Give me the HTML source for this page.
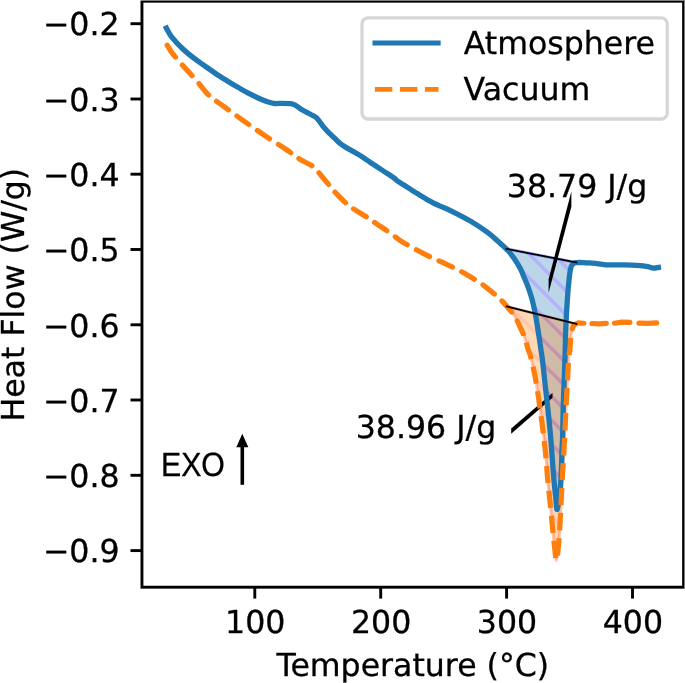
<!DOCTYPE html><html><head><meta charset="utf-8"><title>DSC</title><style>html,body{margin:0;padding:0;background:#fff}svg{display:block}text{font-family:"DejaVu Sans","Liberation Sans",sans-serif;font-size:31.6px;fill:#000;text-rendering:geometricPrecision;stroke:#000;stroke-width:0.3px}</style></head><body>
<svg width="685" height="683" viewBox="0 0 685 683">
<defs>
<pattern id="hb" patternUnits="userSpaceOnUse" x="0" y="12.9" width="24" height="24"><rect width="24" height="24" fill="#1f77b4"/><path d="M-24 -24 L48 48 M-24 0 L24 48 M0 -24 L48 24" stroke="#0000ff" stroke-width="3.7" fill="none"/></pattern>
<pattern id="ho" patternUnits="userSpaceOnUse" x="0" y="12.9" width="24" height="24"><rect width="24" height="24" fill="#ff7f0e"/><path d="M-24 -24 L48 48 M-24 0 L24 48 M0 -24 L48 24" stroke="#ff4500" stroke-width="3.7" fill="none"/></pattern>
</defs>
<rect width="685" height="683" fill="#fff"/>
<path d="M506.5 248.8C506.7 249.0 506.3 248.6 507.6 250.2C508.9 251.8 512.0 255.3 514.2 258.5C516.4 261.7 519.3 266.6 520.8 269.5C522.3 272.4 522.3 273.1 523.4 275.7C524.5 278.3 526.0 281.4 527.4 285.2C528.8 289.0 530.5 293.8 531.8 298.4C533.1 303.0 534.0 307.2 535.1 312.8C536.2 318.4 537.3 325.7 538.3 331.9C539.3 338.1 540.3 345.0 541.0 350.0C541.7 355.0 542.0 356.0 542.7 362.0C543.4 368.0 544.4 377.9 545.3 386.0C546.2 394.1 547.1 401.9 548.0 410.3C548.9 418.7 549.9 428.3 550.6 436.6C551.3 444.9 551.9 453.4 552.4 460.0C552.9 466.6 553.0 469.9 553.6 476.4C554.2 482.9 555.3 493.7 555.9 499.2C556.5 504.7 556.5 510.4 557.1 509.5C557.7 508.6 559.0 499.4 559.7 493.9C560.4 488.4 560.7 483.7 561.1 476.4C561.5 469.1 561.8 456.6 562.0 450.0C562.2 443.4 562.4 444.7 562.6 436.6C562.8 428.5 563.0 413.2 563.4 401.5C563.8 389.8 564.4 375.0 564.7 366.4C565.0 357.8 565.0 356.6 565.2 350.0C565.4 343.4 565.5 334.9 565.9 326.6C566.2 318.3 566.8 308.2 567.3 300.3C567.8 292.4 568.5 284.6 569.1 279.2C569.7 273.8 570.2 270.2 570.8 267.8C571.3 265.4 571.8 265.3 572.4 264.5C573.0 263.7 573.6 263.3 574.3 263.0C575.0 262.7 576.0 262.6 576.4 262.5 Z" fill="url(#hb)" fill-opacity="0.3" stroke="#0000ff" stroke-opacity="0.3" stroke-width="3" stroke-linejoin="round"/>
<path d="M506.7 306.4C506.9 306.5 506.3 305.7 507.6 307.3C508.9 308.9 512.4 312.6 514.6 316.1C516.8 319.6 519.0 324.6 520.7 328.4C522.5 332.2 523.8 335.3 525.1 338.9C526.4 342.5 527.4 347.2 528.3 350.0C529.2 352.8 529.3 351.6 530.4 355.8C531.5 360.0 533.5 368.4 534.8 375.1C536.1 381.8 537.2 388.9 538.3 396.2C539.4 403.5 540.5 411.8 541.5 419.1C542.5 426.4 543.3 433.3 544.1 440.1C544.9 446.9 545.7 453.9 546.2 460.0C546.8 466.1 546.8 469.3 547.4 476.4C548.0 483.5 549.2 493.9 550.1 502.7C551.0 511.5 551.9 521.2 552.7 529.1C553.5 537.0 554.3 544.9 554.9 550.1C555.5 555.3 555.8 560.6 556.4 560.3C557.0 560.0 557.7 553.6 558.2 548.4C558.8 543.2 559.2 536.7 559.7 529.1C560.2 521.5 560.7 511.5 561.1 502.7C561.5 493.9 562.0 483.5 562.4 476.4C562.8 469.3 563.0 466.6 563.4 460.0C563.8 453.4 564.3 444.9 564.7 436.6C565.1 428.3 565.5 419.1 565.9 410.3C566.3 401.5 566.8 392.7 567.3 383.9C567.8 375.1 568.3 363.2 568.7 357.6C569.1 352.0 569.6 352.9 569.9 350.0C570.2 347.1 570.3 342.7 570.5 340.0C570.7 337.3 570.7 336.1 571.2 333.7C571.7 331.3 572.6 327.3 573.5 325.7C574.4 324.1 575.9 324.3 576.4 324.0 Z" fill="url(#ho)" fill-opacity="0.3" stroke="#ff4500" stroke-opacity="0.3" stroke-width="3" stroke-linejoin="round"/>
<path d="M571.4 191.2L548.6 279.2V292.8L571.4 206.6Z" fill="#000"/>
<path d="M511.2 428.6L552.5 393.1V397.7L511.2 433.8Z" fill="#000"/>
<path d="M166.4 28.1C167.3 29.7 169.2 33.9 172.0 37.4C174.8 40.9 179.2 45.5 182.9 49.0C186.6 52.5 190.2 55.4 193.9 58.2C197.6 61.0 201.2 63.4 204.9 66.0C208.6 68.6 212.2 71.2 215.9 73.7C219.6 76.2 223.2 78.4 226.9 80.7C230.6 83.0 234.2 85.2 237.9 87.3C241.6 89.4 245.2 91.5 248.8 93.4C252.5 95.3 256.6 97.3 259.8 98.7C263.0 100.1 265.6 101.1 268.0 101.9C270.4 102.7 272.1 103.3 274.5 103.5C276.9 103.7 280.0 103.3 282.7 103.3C285.4 103.3 288.8 103.3 290.9 103.6C293.0 103.9 293.8 104.3 295.6 105.3C297.5 106.3 299.8 108.4 302.0 109.7C304.2 111.0 306.8 112.3 308.6 113.3C310.4 114.3 311.5 114.8 312.9 115.6C314.2 116.4 315.4 116.8 316.7 118.0C318.0 119.2 319.4 121.4 320.6 122.9C321.8 124.5 322.4 125.6 323.9 127.3C325.4 129.0 327.6 131.5 329.4 133.3C331.2 135.2 333.2 136.8 334.9 138.4C336.5 140.0 337.8 141.4 339.3 142.7C340.8 144.0 341.9 144.8 343.7 146.0C345.5 147.2 347.8 148.5 350.3 149.9C352.8 151.3 355.2 152.6 358.5 154.6C361.8 156.6 366.1 159.6 370.0 162.2C373.9 164.8 377.8 167.3 381.7 169.9C385.6 172.5 390.7 175.6 393.4 177.5C396.1 179.4 396.2 180.0 398.1 181.4C400.1 182.8 402.0 183.7 405.1 185.7C408.2 187.7 412.9 190.9 416.8 193.3C420.7 195.7 424.6 198.2 428.5 200.3C432.4 202.5 436.7 204.5 440.3 206.2C443.9 207.9 445.0 207.8 450.0 210.3C455.0 212.8 464.0 217.3 470.3 221.0C476.6 224.7 483.1 229.1 487.9 232.6C492.6 236.1 495.5 239.1 498.8 242.0C502.1 244.9 505.0 247.4 507.6 250.2C510.2 252.9 512.0 255.3 514.2 258.5C516.4 261.7 519.3 266.6 520.8 269.5C522.3 272.4 522.3 273.1 523.4 275.7C524.5 278.3 526.0 281.4 527.4 285.2C528.8 289.0 530.5 293.8 531.8 298.4C533.1 303.0 534.0 307.2 535.1 312.8C536.2 318.4 537.3 325.7 538.3 331.9C539.3 338.1 540.3 345.0 541.0 350.0C541.7 355.0 542.0 356.0 542.7 362.0C543.4 368.0 544.4 377.9 545.3 386.0C546.2 394.1 547.1 401.9 548.0 410.3C548.9 418.7 549.9 428.3 550.6 436.6C551.3 444.9 551.9 453.4 552.4 460.0C552.9 466.6 553.0 469.9 553.6 476.4C554.2 482.9 555.3 493.7 555.9 499.2C556.5 504.7 556.5 510.4 557.1 509.5C557.7 508.6 559.0 499.4 559.7 493.9C560.4 488.4 560.7 483.7 561.1 476.4C561.5 469.1 561.8 456.6 562.0 450.0C562.2 443.4 562.4 444.7 562.6 436.6C562.8 428.5 563.0 413.2 563.4 401.5C563.8 389.8 564.4 375.0 564.7 366.4C565.0 357.8 565.0 356.6 565.2 350.0C565.4 343.4 565.5 334.9 565.9 326.6C566.2 318.3 566.8 308.2 567.3 300.3C567.8 292.4 568.5 284.6 569.1 279.2C569.7 273.8 570.2 270.2 570.8 267.8C571.3 265.4 571.8 265.3 572.4 264.5C573.0 263.7 573.6 263.3 574.3 263.0C575.0 262.7 575.7 262.7 576.6 262.6C577.5 262.5 578.4 262.5 579.5 262.5C580.6 262.5 581.8 262.5 583.1 262.6C584.4 262.7 585.5 262.8 587.5 262.9C589.5 263.0 592.4 263.1 595.4 263.4C598.4 263.7 601.0 264.6 605.8 264.8C610.6 265.0 618.9 264.7 624.1 264.8C629.3 264.9 633.0 265.0 636.9 265.3C640.8 265.6 645.1 266.1 647.8 266.6C650.5 267.1 651.5 268.1 653.3 268.2C655.1 268.3 657.5 267.6 658.4 267.5" fill="none" stroke="#1f77b4" stroke-width="5.3" stroke-linejoin="round" stroke-linecap="square"/>
<path d="M506.5 248.8L576.4 262.5" stroke="#000" stroke-width="1.8" stroke-linecap="square"/>
<clipPath id="cu"><rect x="0" y="0" width="685" height="336"/></clipPath><clipPath id="cl"><rect x="0" y="336" width="685" height="347"/></clipPath>
<path clip-path="url(#cu)" d="M166.5 44.0C167.4 45.5 170.2 50.2 172.0 52.8C173.8 55.4 175.1 56.6 177.5 59.4C179.9 62.1 182.9 65.6 186.2 69.3C189.5 73.0 193.3 77.0 197.2 81.4C201.0 85.8 205.1 91.7 209.3 95.7C213.5 99.7 217.0 101.5 222.5 105.5C228.0 109.5 235.2 114.8 242.2 119.8C249.1 124.8 256.9 130.2 264.2 135.2C271.5 140.1 280.3 145.5 286.2 149.5C292.1 153.5 295.4 156.4 299.8 159.2C304.2 162.0 309.6 164.0 312.9 166.4C316.2 168.8 316.8 170.3 319.5 173.5C322.2 176.7 326.6 182.2 329.4 185.5C332.1 188.8 333.2 190.3 336.0 193.2C338.8 196.1 342.8 200.3 345.9 203.1C349.0 205.8 351.0 207.2 354.7 209.7C358.4 212.1 364.1 215.4 367.8 217.8C371.5 220.2 373.3 221.7 376.6 223.9C379.9 226.1 383.7 228.5 387.6 231.2C391.5 233.9 396.1 237.7 400.0 240.3C403.9 242.9 406.2 244.3 411.0 246.9C415.8 249.5 422.0 252.9 428.6 256.1C435.2 259.3 443.9 263.0 450.5 266.2C457.1 269.4 462.6 272.2 468.1 275.4C473.6 278.6 479.1 282.2 483.5 285.3C487.9 288.4 491.6 291.8 494.4 294.1C497.2 296.5 498.3 297.2 500.5 299.4C502.7 301.6 505.2 304.5 507.6 307.3C510.0 310.1 512.4 312.6 514.6 316.1C516.8 319.6 519.0 324.6 520.7 328.4C522.5 332.2 523.8 335.3 525.1 338.9C526.4 342.5 527.4 347.2 528.3 350.0C529.2 352.8 529.3 351.6 530.4 355.8C531.5 360.0 533.5 368.4 534.8 375.1C536.1 381.8 537.2 388.9 538.3 396.2C539.4 403.5 540.5 411.8 541.5 419.1C542.5 426.4 543.3 433.3 544.1 440.1C544.9 446.9 545.7 453.9 546.2 460.0C546.8 466.1 546.8 469.3 547.4 476.4C548.0 483.5 549.2 493.9 550.1 502.7C551.0 511.5 551.9 521.2 552.7 529.1C553.5 537.0 554.3 544.9 554.9 550.1C555.5 555.3 555.8 560.6 556.4 560.3C557.0 560.0 557.7 553.6 558.2 548.4C558.8 543.2 559.2 536.7 559.7 529.1C560.2 521.5 560.7 511.5 561.1 502.7C561.5 493.9 562.0 483.5 562.4 476.4C562.8 469.3 563.0 466.6 563.4 460.0C563.8 453.4 564.3 444.9 564.7 436.6C565.1 428.3 565.5 419.1 565.9 410.3C566.3 401.5 566.8 392.7 567.3 383.9C567.8 375.1 568.3 363.2 568.7 357.6C569.1 352.0 569.6 352.9 569.9 350.0C570.2 347.1 570.3 342.7 570.5 340.0C570.7 337.3 570.7 336.1 571.2 333.7C571.7 331.3 572.4 327.5 573.5 325.7C574.6 323.9 576.4 323.5 577.8 323.1C579.2 322.7 580.5 323.1 582.0 323.2C583.5 323.2 586.2 323.4 587.0 323.4" fill="none" stroke="#ff7f0e" stroke-width="5.2" stroke-linejoin="round" stroke-linecap="round" stroke-dasharray="14.70 10.35" stroke-dashoffset="-1.40"/>
<path clip-path="url(#cl)" d="M166.5 44.0C167.4 45.5 170.2 50.2 172.0 52.8C173.8 55.4 175.1 56.6 177.5 59.4C179.9 62.1 182.9 65.6 186.2 69.3C189.5 73.0 193.3 77.0 197.2 81.4C201.0 85.8 205.1 91.7 209.3 95.7C213.5 99.7 217.0 101.5 222.5 105.5C228.0 109.5 235.2 114.8 242.2 119.8C249.1 124.8 256.9 130.2 264.2 135.2C271.5 140.1 280.3 145.5 286.2 149.5C292.1 153.5 295.4 156.4 299.8 159.2C304.2 162.0 309.6 164.0 312.9 166.4C316.2 168.8 316.8 170.3 319.5 173.5C322.2 176.7 326.6 182.2 329.4 185.5C332.1 188.8 333.2 190.3 336.0 193.2C338.8 196.1 342.8 200.3 345.9 203.1C349.0 205.8 351.0 207.2 354.7 209.7C358.4 212.1 364.1 215.4 367.8 217.8C371.5 220.2 373.3 221.7 376.6 223.9C379.9 226.1 383.7 228.5 387.6 231.2C391.5 233.9 396.1 237.7 400.0 240.3C403.9 242.9 406.2 244.3 411.0 246.9C415.8 249.5 422.0 252.9 428.6 256.1C435.2 259.3 443.9 263.0 450.5 266.2C457.1 269.4 462.6 272.2 468.1 275.4C473.6 278.6 479.1 282.2 483.5 285.3C487.9 288.4 491.6 291.8 494.4 294.1C497.2 296.5 498.3 297.2 500.5 299.4C502.7 301.6 505.2 304.5 507.6 307.3C510.0 310.1 512.4 312.6 514.6 316.1C516.8 319.6 519.0 324.6 520.7 328.4C522.5 332.2 523.8 335.3 525.1 338.9C526.4 342.5 527.4 347.2 528.3 350.0C529.2 352.8 529.3 351.6 530.4 355.8C531.5 360.0 533.5 368.4 534.8 375.1C536.1 381.8 537.2 388.9 538.3 396.2C539.4 403.5 540.5 411.8 541.5 419.1C542.5 426.4 543.3 433.3 544.1 440.1C544.9 446.9 545.7 453.9 546.2 460.0C546.8 466.1 546.8 469.3 547.4 476.4C548.0 483.5 549.2 493.9 550.1 502.7C551.0 511.5 551.9 521.2 552.7 529.1C553.5 537.0 554.3 544.9 554.9 550.1C555.5 555.3 555.8 560.6 556.4 560.3C557.0 560.0 557.7 553.6 558.2 548.4C558.8 543.2 559.2 536.7 559.7 529.1C560.2 521.5 560.7 511.5 561.1 502.7C561.5 493.9 562.0 483.5 562.4 476.4C562.8 469.3 563.0 466.6 563.4 460.0C563.8 453.4 564.3 444.9 564.7 436.6C565.1 428.3 565.5 419.1 565.9 410.3C566.3 401.5 566.8 392.7 567.3 383.9C567.8 375.1 568.3 363.2 568.7 357.6C569.1 352.0 569.6 352.9 569.9 350.0C570.2 347.1 570.3 342.7 570.5 340.0C570.7 337.3 570.7 336.1 571.2 333.7C571.7 331.3 572.4 327.5 573.5 325.7C574.6 323.9 576.4 323.5 577.8 323.1C579.2 322.7 580.5 323.1 582.0 323.2C583.5 323.2 586.2 323.4 587.0 323.4" fill="none" stroke="#ff7f0e" stroke-width="5.2" stroke-linejoin="round" stroke-dasharray="17.30 7.75" stroke-dashoffset="0.10"/>
<path d="M592.0 323.5L599 323.8L606.3 323.4M614.5 323.2L622 322.1L629.9 322.4M639.0 323.1L648 323.3L656.6 322.8" fill="none" stroke="#ff7f0e" stroke-width="5.2" stroke-linejoin="round" stroke-linecap="round"/>
<path d="M506.7 306.4L576.4 324.0" stroke="#000" stroke-width="1.8" stroke-linecap="square"/>
<rect x="141.95" y="1.2" width="541.65" height="586" fill="none" stroke="#000" stroke-width="2.9"/>
<path d="M141.9 23.7H130.5" stroke="#000" stroke-width="2.9"/>
<text x="119.6" y="35.4" text-anchor="end">−0.2</text>
<path d="M141.9 99.0H130.5" stroke="#000" stroke-width="2.9"/>
<text x="119.6" y="110.7" text-anchor="end">−0.3</text>
<path d="M141.9 174.2H130.5" stroke="#000" stroke-width="2.9"/>
<text x="119.6" y="185.9" text-anchor="end">−0.4</text>
<path d="M141.9 249.5H130.5" stroke="#000" stroke-width="2.9"/>
<text x="119.6" y="261.2" text-anchor="end">−0.5</text>
<path d="M141.9 324.8H130.5" stroke="#000" stroke-width="2.9"/>
<text x="119.6" y="336.5" text-anchor="end">−0.6</text>
<path d="M141.9 400.0H130.5" stroke="#000" stroke-width="2.9"/>
<text x="119.6" y="411.8" text-anchor="end">−0.7</text>
<path d="M141.9 475.3H130.5" stroke="#000" stroke-width="2.9"/>
<text x="119.6" y="487.0" text-anchor="end">−0.8</text>
<path d="M141.9 550.6H130.5" stroke="#000" stroke-width="2.9"/>
<text x="119.6" y="562.3" text-anchor="end">−0.9</text>
<path d="M254.8 587.2V598.6" stroke="#000" stroke-width="2.9"/>
<text x="255.2" y="633.0" text-anchor="middle">100</text>
<path d="M380.7 587.2V598.6" stroke="#000" stroke-width="2.9"/>
<text x="381.1" y="633.0" text-anchor="middle">200</text>
<path d="M506.6 587.2V598.6" stroke="#000" stroke-width="2.9"/>
<text x="507.0" y="633.0" text-anchor="middle">300</text>
<path d="M632.5 587.2V598.6" stroke="#000" stroke-width="2.9"/>
<text x="632.9" y="633.0" text-anchor="middle">400</text>
<text x="412.8" y="675.9" text-anchor="middle">Temperature (°C)</text>
<text transform="translate(23.5 294.7) rotate(-90)" text-anchor="middle">Heat Flow (W/g)</text>
<rect x="362" y="17.9" width="305.2" height="101.1" rx="6" ry="6" fill="#fff" fill-opacity="0.8" stroke="#ccc" stroke-opacity="0.8" stroke-width="3.3"/>
<path d="M374.9 43H438.2" stroke="#1f77b4" stroke-width="4.9" stroke-linecap="square"/>
<path d="M374.9 89.4H438.5" stroke="#ff7f0e" stroke-width="4.9" stroke-dasharray="17.45 7.55"/>
<text x="463.7" y="54.4">Atmosphere</text>
<text x="463.5" y="99.7">Vacuum</text>
<text x="506.8" y="196.7">38.79 J/g</text>
<text x="355.7" y="437.7">38.96 J/g</text>
<text transform="translate(161 476) scale(0.9 1)" style="font-family:'Liberation Sans',sans-serif;font-size:33.6px">EXO</text>
<path d="M242.3 484.8V446" stroke="#000" stroke-width="3.6"/>
<path d="M242.3 433.7L236.3 447.2H248.3Z" fill="#000"/>
<rect x="0" y="0" width="685" height="1" fill="#fff" fill-opacity="0.5"/><rect x="684" y="1" width="1" height="682" fill="#fff" fill-opacity="0.5"/>
</svg></body></html>
